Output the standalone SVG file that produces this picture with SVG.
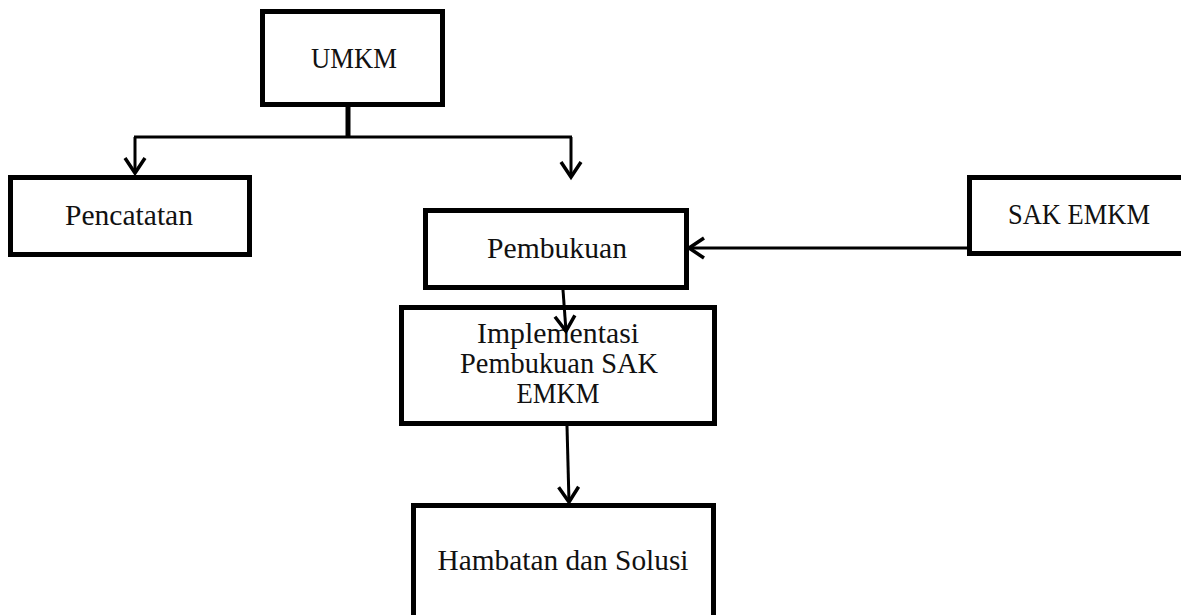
<svg xmlns="http://www.w3.org/2000/svg" width="1181" height="615" viewBox="0 0 1181 615">
<style>
.box{fill:#fff;stroke:#000;stroke-width:5}
.lbl{font-family:"Liberation Serif","Times New Roman",serif;font-size:28.5px;fill:#111;text-anchor:middle}
.ln{fill:none;stroke:#000;stroke-width:3}
</style>
<defs>
<marker id="ah" markerUnits="userSpaceOnUse" markerWidth="30" markerHeight="30" viewBox="-20 -15 30 30" refX="0" refY="0" orient="auto" overflow="visible">
<path d="M-15,-10 L0,0 L-15,10" fill="none" stroke="#000" stroke-width="3.5"/>
</marker>
</defs>
<g id="umkm">
<rect class="box" x="262.5" y="11.5" width="180" height="93"/>
<text class="lbl" x="354" y="68" textLength="86" lengthAdjust="spacingAndGlyphs">UMKM</text>
</g>
<g id="pencatatan">
<rect class="box" x="10.5" y="177.5" width="239" height="77"/>
<text class="lbl" x="129" y="225" textLength="128" lengthAdjust="spacingAndGlyphs">Pencatatan</text>
</g>
<g id="pembukuan">
<rect class="box" x="425.5" y="210.5" width="261" height="77"/>
<text class="lbl" x="557" y="258" textLength="140" lengthAdjust="spacingAndGlyphs">Pembukuan</text>
</g>
<g id="sak-emkm">
<rect class="box" x="969.5" y="177.5" width="220" height="76"/>
<text class="lbl" x="1079" y="224" textLength="142" lengthAdjust="spacingAndGlyphs">SAK EMKM</text>
</g>
<g id="implementasi">
<rect class="box" x="401.5" y="307.5" width="313" height="116"/>
<text class="lbl" x="558" y="343" textLength="162" lengthAdjust="spacingAndGlyphs">Implementasi</text>
<text class="lbl" x="559" y="373" textLength="198" lengthAdjust="spacingAndGlyphs">Pembukuan SAK</text>
<text class="lbl" x="558" y="403" textLength="83" lengthAdjust="spacingAndGlyphs">EMKM</text>
</g>
<g id="hambatan">
<rect class="box" x="413.5" y="505.5" width="300" height="120"/>
<text class="lbl" x="563" y="570" textLength="251" lengthAdjust="spacingAndGlyphs">Hambatan dan Solusi</text>
</g>
<g id="connectors">
<line class="ln" x1="348" y1="105" x2="348" y2="138" style="stroke-width:5"/>
<line class="ln" x1="134" y1="137" x2="572" y2="137"/>
<line class="ln" x1="135" y1="137" x2="135" y2="173" marker-end="url(#ah)"/>
<line class="ln" x1="571" y1="137" x2="571" y2="177" marker-end="url(#ah)"/>
<line class="ln" x1="968" y1="248" x2="689" y2="248" marker-end="url(#ah)"/>
<line class="ln" x1="563" y1="290" x2="566" y2="331" marker-end="url(#ah)"/>
<line class="ln" x1="567" y1="426" x2="569" y2="502" marker-end="url(#ah)"/>
</g>
</svg>
